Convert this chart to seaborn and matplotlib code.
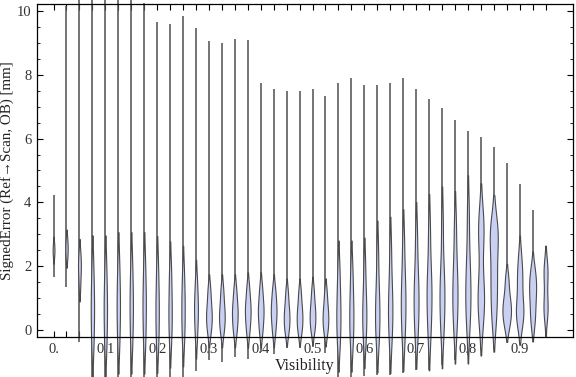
import matplotlib
matplotlib.use("Agg")
import matplotlib.pyplot as plt
import seaborn as sns

# Visibility bins (one violin per bin)
visibility = [0.0, 0.025, 0.05, 0.075, 0.1, 0.125, 0.15, 0.175, 0.2, 0.225,
              0.25, 0.275, 0.3, 0.325, 0.35, 0.375, 0.4, 0.425, 0.45, 0.475,
              0.5, 0.525, 0.55, 0.575, 0.6, 0.625, 0.65, 0.675, 0.7, 0.725,
              0.75, 0.775, 0.8, 0.825, 0.85, 0.875, 0.9, 0.925, 0.95]

# extremes of the signed error per bin [mm]
err_min = [1.66, 1.34, -0.37, -1.6, -1.6, -1.6, -1.6, -1.6, -1.6, -1.6,
           -1.6, -1.28, -0.93, -0.99, -0.85, -0.92, -0.70, -0.75, -0.57, -0.55,
           -0.52, -0.73, -1.5, -1.5, -1.45, -1.4, -1.4, -1.35, -1.25, -1.25,
           -1.1, -0.94, -0.78, -0.63, -0.6, -0.26, -0.21, -0.29, -0.16]
err_max = [4.23, 10.15, 11.0, 11.0, 11.0, 11.0, 11.0, 10.24, 9.66, 9.59,
           9.85, 9.46, 9.06, 9.0, 9.11, 9.08, 7.73, 7.57, 7.49, 7.50,
           7.57, 7.34, 7.73, 7.89, 7.69, 7.68, 7.75, 7.89, 7.57, 7.24,
           6.95, 6.58, 6.23, 6.04, 5.75, 5.22, 4.58, 3.76, 2.48]

# bulk of the signed error per bin (rough sample values)
err_body = [
    [2.25, 2.4, 2.5, 2.6, 2.75],
    [2.2, 2.4, 2.55, 2.7, 2.9],
    [1.3, 1.7, 1.95, 2.15, 2.45],
    [-0.6, 0.0, 0.5, 0.9, 1.4, 2.1],
    [-0.6, 0.0, 0.5, 0.9, 1.4, 2.1],
    [-0.5, 0.1, 0.6, 1.0, 1.5, 2.2],
    [-0.5, 0.1, 0.6, 1.0, 1.5, 2.2],
    [-0.5, 0.1, 0.6, 1.0, 1.5, 2.2],
    [-0.5, 0.0, 0.5, 0.9, 1.4, 2.1],
    [-0.4, 0.1, 0.5, 0.9, 1.4, 2.0],
    [-0.4, 0.1, 0.5, 0.9, 1.3, 1.9],
    [-0.3, 0.2, 0.5, 0.8, 1.1, 1.6],
    [-0.1, 0.2, 0.4, 0.6, 0.9, 1.3],
    [-0.1, 0.2, 0.4, 0.6, 0.9, 1.3],
    [-0.1, 0.2, 0.45, 0.65, 0.9, 1.3],
    [-0.1, 0.25, 0.5, 0.7, 0.95, 1.35],
    [-0.1, 0.25, 0.5, 0.7, 0.95, 1.35],
    [-0.1, 0.25, 0.5, 0.7, 0.95, 1.3],
    [-0.1, 0.15, 0.35, 0.55, 0.8, 1.2],
    [-0.1, 0.15, 0.35, 0.55, 0.8, 1.2],
    [-0.05, 0.2, 0.4, 0.6, 0.85, 1.25],
    [-0.1, 0.15, 0.35, 0.55, 0.8, 1.2],
    [-0.5, 0.0, 0.4, 0.8, 1.3, 2.0],
    [-0.5, 0.0, 0.4, 0.8, 1.3, 2.0],
    [-0.4, 0.1, 0.45, 0.8, 1.3, 2.1],
    [-0.4, 0.1, 0.5, 0.9, 1.5, 2.5],
    [-0.4, 0.2, 0.6, 1.0, 1.6, 2.6],
    [-0.3, 0.3, 0.8, 1.2, 1.8, 2.8],
    [-0.2, 0.4, 0.9, 1.3, 1.9, 3.0],
    [-0.2, 0.5, 1.0, 1.4, 2.0, 3.2],
    [-0.1, 0.5, 1.0, 1.4, 2.0, 3.4],
    [0.0, 0.6, 1.1, 1.5, 2.2, 3.3],
    [0.1, 0.7, 1.2, 1.6, 2.4, 3.7],
    [0.3, 0.8, 1.1, 1.5, 2.8, 3.2, 3.5],
    [0.3, 0.9, 1.5, 2.0, 2.8, 3.05, 3.25],
    [0.1, 0.4, 0.6, 0.8, 1.1, 1.6],
    [0.2, 0.45, 0.65, 0.9, 1.5, 1.75, 2.3],
    [0.2, 0.6, 1.0, 1.3, 1.55, 1.9],
    [0.4, 0.7, 0.9, 1.5, 1.85, 2.05],
]

# relative violin width per bin (x units)
violin_width = [0.0035, 0.0045, 0.0055, 0.0065, 0.0065, 0.0065, 0.0065, 0.0065, 0.0065, 0.0065,
                0.0065, 0.0075, 0.011, 0.011, 0.011, 0.011, 0.011, 0.011, 0.011, 0.011,
                0.011, 0.011, 0.008, 0.008, 0.008, 0.0085, 0.0085, 0.009, 0.0095, 0.0095,
                0.0095, 0.01, 0.01, 0.0125, 0.0155, 0.0165, 0.0145, 0.0135, 0.008]

x_labels = ["0.", "0.1", "0.2", "0.3", "0.4", "0.5", "0.6", "0.7", "0.8", "0.9"]

sns.set_style("ticks")
plt.rcParams["font.family"] = ["Liberation Serif", "DejaVu Serif"]

fill = "#c9d0f4"
edge = "#4a4a4a"

fig, ax = plt.subplots(figsize=(5.76, 3.77), dpi=100)
fig.subplots_adjust(left=0.0642, right=0.9948, bottom=0.1061, top=0.9894)

# long thin tails of each distribution
ax.vlines(visibility, err_min, err_max, color="#555555", lw=1.15, zorder=1)

for v, body, w in zip(visibility, err_body, violin_width):
    sns.violinplot(x=[v] * len(body), y=body, native_scale=True, orient="x",
                   width=w, inner=None, cut=1.6, bw_adjust=0.8,
                   color=fill, saturation=1, linecolor=edge, linewidth=0.8,
                   ax=ax)

for c in ax.collections:
    c.set_clip_on(False)

ax.set_xlim(-0.032, 1.003)
ax.set_ylim(-0.22, 10.22)

ax.set_xticks(visibility)
ax.set_xticklabels([x_labels[i // 4] if i % 4 == 0 else "" for i in range(len(visibility))])
ax.set_yticks([0, 2, 4, 6, 8, 10])
ax.set_yticklabels(["0", "2", "4", "6", "8", "10"])
ax.set_yticks([k * 0.5 for k in range(21)], minor=True)

ax.tick_params(axis="both", which="both", direction="in", colors="black",
               labelcolor="#333333", labelsize=10.5, top=True, right=True)
ax.tick_params(axis="x", which="major", length=4, pad=4)
ax.tick_params(axis="y", which="major", length=4.5, pad=4)
ax.tick_params(axis="y", which="minor", length=2.5)

for s in ax.spines.values():
    s.set_color("black")
    s.set_linewidth(0.9)

ax.set_xlabel("Visibility", fontsize=11.5, color="#222222", labelpad=2)
ax.set_ylabel("SignedError (Ref\u2192Scan, OB) [mm]", fontsize=10.8, color="#222222")
ax.yaxis.set_label_coords(-0.042, 0.5)

fig.savefig("out.png", dpi=100)
plt.close(fig)
